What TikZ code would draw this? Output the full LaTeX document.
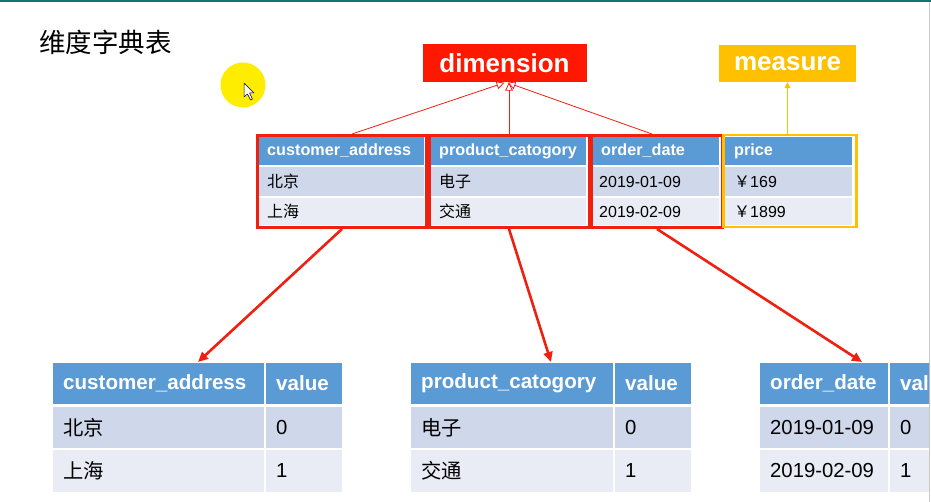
\documentclass[tikz,border=0pt]{standalone}
\usepackage{fontspec}
\setmainfont{Liberation Sans}
\newfontfamily\cjk{Noto Sans CJK SC}
\usetikzlibrary{arrows.meta,calc}
\definecolor{hblue}{RGB}{91,155,213}
\definecolor{rowa}{RGB}{207,215,234}
\definecolor{rowb}{RGB}{233,236,245}
\definecolor{myred}{RGB}{240,32,16}
\definecolor{dimred}{RGB}{255,24,0}
\definecolor{myorange}{RGB}{255,192,0}
\definecolor{tealtop}{RGB}{20,115,115}
\definecolor{edgegray}{RGB}{200,200,200}
\newcommand{\tcell}[8]{%
  \path[fill=#6] (#2,#3) rectangle (#4,#5);
  \node[celltext,#7] (#1) at ({#2+10},{(#3+#5)/2}) {#8};}
\tikzset{
  celltext/.style={anchor=west,inner sep=0pt,text=black},
  hsmall/.style={text=white,font=\fontsize{16.2}{19}\selectfont\bfseries},
  bsmall/.style={font=\fontsize{16}{19}\selectfont},
  hbig/.style={text=white,font=\fontsize{20.6}{24}\selectfont\bfseries},
  bbig/.style={font=\fontsize{20.3}{24}\selectfont},
  redbox/.style={draw=myred,line width=3pt,inner sep=0pt,anchor=north west},
  thinred/.style={draw=myred,line width=0.8pt,-{Triangle[open,length=8pt,width=8pt]}},
  bigred/.style={draw=myred,line width=2.6pt,-{Triangle[length=10pt,width=9pt]}},
  label box/.style={inner sep=0pt,text=white,font=\fontsize{26}{30}\selectfont\bfseries}
}
\begin{document}
\begin{tikzpicture}[x=1pt,y=-1pt]
\useasboundingbox (0,0) rectangle (931,502);
\fill[white] (0,0) rectangle (931,502);
\fill[tealtop] (0,0) rectangle (931,2);
\draw[edgegray,line width=1pt] (929.5,2) -- (929.5,502);

% title
\node[anchor=west,inner sep=0pt,font=\cjk\fontsize{26.5}{31}\selectfont] (title) at (39,42) {维度字典表};

% cursor highlight
\fill[yellow!95!orange] (243,85) circle (22.5);
\draw[black,fill=white,line width=0.5pt,line join=round] (244,83) -- (244,97) -- (247.5,94) -- (250.5,100) -- (252.5,99) -- (249.5,93) -- (254,93) -- cycle;

% top table
\tcell{h1}{257}{137}{424}{165}{hblue}{hsmall}{customer\_address}
\tcell{h2}{429}{137}{586}{165}{hblue}{hsmall}{product\_catogory}
\tcell{h3}{591}{137}{719}{165}{hblue}{hsmall}{order\_date}
\tcell{h4}{724}{137}{852}{165}{hblue}{hsmall}{price}
\tcell{a1}{257}{167}{424}{196}{rowa}{bsmall}{\cjk 北京}
\tcell{a2}{429}{167}{586}{196}{rowa}{bsmall}{\cjk 电子}
\tcell{a3}{589}{167}{719}{196}{rowa}{bsmall}{2019-01-09}
\tcell{a4}{724}{167}{852}{196}{rowa}{bsmall}{{\cjk ￥}169}
\tcell{b1}{257}{198}{424}{225}{rowb}{bsmall}{\cjk 上海}
\tcell{b2}{429}{198}{586}{225}{rowb}{bsmall}{\cjk 交通}
\tcell{b3}{589}{198}{719}{225}{rowb}{bsmall}{2019-02-09}
\tcell{b4}{724}{198}{852}{225}{rowb}{bsmall}{{\cjk ￥}1899}

% highlight boxes
\node[redbox,minimum width=169,minimum height=92] (r1) at (256,134) {};
\node[redbox,minimum width=160,minimum height=92] (r2) at (427.5,134) {};
\node[redbox,minimum width=131,minimum height=92] (r3) at (590,134) {};
\node[redbox,draw=myorange,line width=2.5pt,minimum width=133,minimum height=92] (r4) at (722,134) {};

% labels
\node[label box,fill=dimred,minimum width=164,minimum height=38] (dim) at (504.5,63.5) {dimension};
\node[label box,fill=myorange,minimum width=137,minimum height=37] (mea) at (787.5,63.5) {measure};

% thin arrows
\draw[thinred] ($(r1.north)+(10,0)$) -- (dim.south);
\draw[thinred] (r2.north) -- (r2.north |- dim.south);
\draw[thinred] ($(r3.north)+(-5,0)$) -- ($(dim.south)+(3,0)$);
\draw[draw=myorange,line width=0.8pt,-{Triangle[length=6pt,width=6pt]}] (r4.north -| mea.south) -- (mea.south);

% bottom table 1
\tcell{p1}{53}{363}{264}{404}{hblue}{hbig}{customer\_address}
\tcell{p2}{266}{363}{342}{404}{hblue}{hbig}{value}
\tcell{p3}{53}{407}{264}{448}{rowa}{bbig}{\cjk 北京}
\tcell{p4}{266}{407}{342}{448}{rowa}{bbig}{0}
\tcell{p5}{53}{450}{264}{492}{rowb}{bbig}{\cjk 上海}
\tcell{p6}{266}{450}{342}{492}{rowb}{bbig}{1}

% bottom table 2
\tcell{q1}{411}{363}{613}{404}{hblue}{hbig}{product\_catogory}
\tcell{q2}{615}{363}{691}{404}{hblue}{hbig}{value}
\tcell{q3}{411}{407}{613}{448}{rowa}{bbig}{\cjk 电子}
\tcell{q4}{615}{407}{691}{448}{rowa}{bbig}{0}
\tcell{q5}{411}{450}{613}{492}{rowb}{bbig}{\cjk 交通}
\tcell{q6}{615}{450}{691}{492}{rowb}{bbig}{1}

% bottom table 3 (cut at the right edge)
\begin{scope}
\clip (0,0) rectangle (929,502);
\tcell{s1}{760}{363}{888}{404}{hblue}{hbig}{order\_date}
\tcell{s2}{890}{363}{966}{404}{hblue}{hbig}{value}
\tcell{s3}{760}{407}{888}{448}{rowa}{bbig}{2019-01-09}
\tcell{s4}{890}{407}{966}{448}{rowa}{bbig}{0}
\tcell{s5}{760}{450}{888}{492}{rowb}{bbig}{2019-02-09}
\tcell{s6}{890}{450}{966}{492}{rowb}{bbig}{1}
\end{scope}

% big arrows
\coordinate (e1) at (198,362);
\coordinate (e2) at (551,362);
\coordinate (e3) at (862,362);
\draw[bigred] (r1.south) -- (e1);
\draw[bigred] (r2.south) -- (e2);
\draw[bigred] (r3.south) -- (e3);
\end{tikzpicture}
\end{document}
